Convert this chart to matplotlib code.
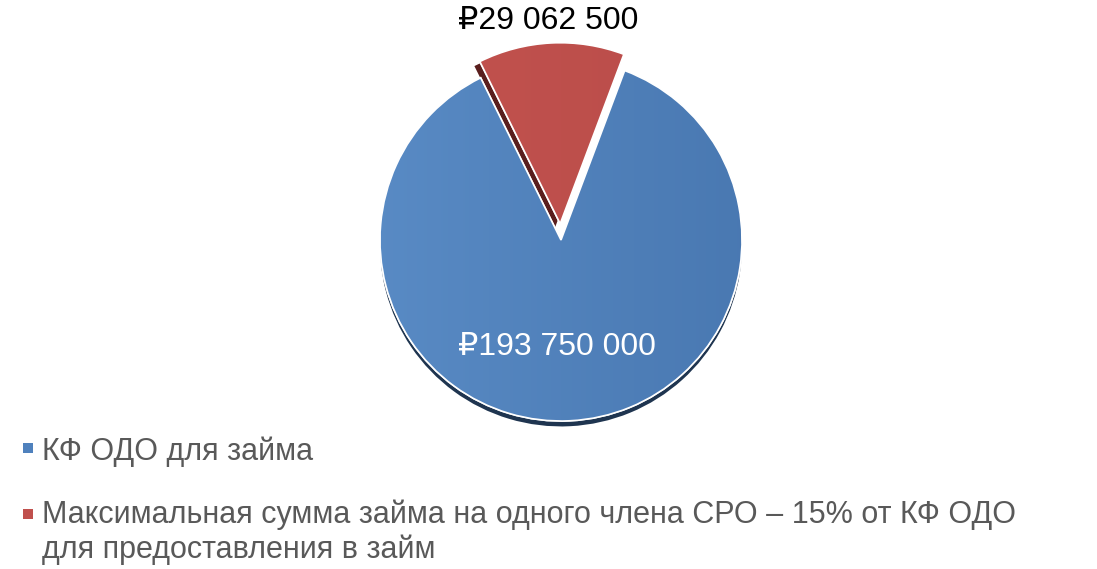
import matplotlib
matplotlib.use("Agg")
import matplotlib.pyplot as plt
import numpy as np
from matplotlib.patches import Rectangle, Wedge

plt.rcParams['font.family'] = ['Liberation Sans', 'DejaVu Sans']

labels = ["КФ ОДО для займа",
          "Максимальная сумма займа на одного члена СРО – 15% от КФ ОДО\nдля предоставления в займ"]
values = [193750000, 29062500]
value_labels = ["₽193 750 000", "₽29 062 500"]
colors = ["#4F81BD", "#C0504D"]
shadow_colors = ["#1F3550", "#5A1E1D"]
light_colors = ["#5A8CC6", "#C4534F"]
dark_colors = ["#4877B0", "#B84C49"]
explode = [0.0, 0.09]

W, H = 1097, 569
fig = plt.figure(figsize=(W / 100, H / 100), dpi=100)
R = 181.0
cx, cy = 561.0, 240.0
lim = 1.3
side = 2 * R * lim
ax = fig.add_axes([(cx - side / 2) / W, (H - cy - side / 2) / H, side / W, side / H])
ax.set_xlim(-lim, lim)
ax.set_ylim(-lim, lim)
ax.set_aspect('equal')
ax.axis('off')

start = 69.4
# shadow / depth layer
sh, _ = ax.pie(values, colors=shadow_colors, startangle=start, counterclock=False,
               explode=explode, radius=1.0, center=(0, -0.03),
               wedgeprops=dict(linewidth=0))
sh[1].set_center((sh[1].center[0] - 0.03, sh[1].center[1] + 0.005))

wedges, _ = ax.pie(values, colors=colors, startangle=start, counterclock=False,
                   explode=explode, radius=1.0,
                   wedgeprops=dict(linewidth=1.2, edgecolor='white'))

# gradient fill clipped to wedges
for w, lc, dc in zip(wedges, light_colors, dark_colors):
    c1 = np.array(matplotlib.colors.to_rgb(lc))
    c2 = np.array(matplotlib.colors.to_rgb(dc))
    t = np.linspace(0, 1, 256)
    grad = (c1[None, :] * (1 - t[:, None]) + c2[None, :] * t[:, None])[None, :, :]
    im = ax.imshow(grad, extent=[-1.2, 1.2, -1.2, 1.3], aspect='auto', zorder=w.get_zorder() + 0.1,
                   interpolation='bilinear')
    im.set_clip_path(w)
    edge = Wedge(w.center, w.r, w.theta1, w.theta2, facecolor='none',
                 edgecolor='white', linewidth=1.2, zorder=w.get_zorder() + 0.2)
    ax.add_patch(edge)

ax.set_xlim(-lim, lim)
ax.set_ylim(-lim, lim)


def to_data(px, py):
    return ((px - cx) / R, (cy - py) / R)


x0, y0 = to_data(557, 347)
ax.text(x0, y0, value_labels[0], color='white', fontsize=23, ha='center', va='center', zorder=10)
x1, y1 = to_data(548, 21)
ax.text(x1, y1, value_labels[1], color='black', fontsize=23, ha='center', va='center', zorder=10,
        clip_on=False)

# legend
marker_y = [448, 514]
baseline_y = [460, 523]
line_step = 35
for c, lab, my, by in zip(colors, labels, marker_y, baseline_y):
    s = 10
    fig.patches.append(Rectangle(((28 - s / 2) / W, (H - my - s / 2) / H), s / W, s / H,
                                 transform=fig.transFigure, facecolor=c, edgecolor='none'))
    for i, line in enumerate(lab.split('\n')):
        fig.text(42 / W, (H - by - i * line_step) / H, line, color='#595959', fontsize=22,
                 ha='left', va='baseline')

fig.savefig("out.png", dpi=100)
